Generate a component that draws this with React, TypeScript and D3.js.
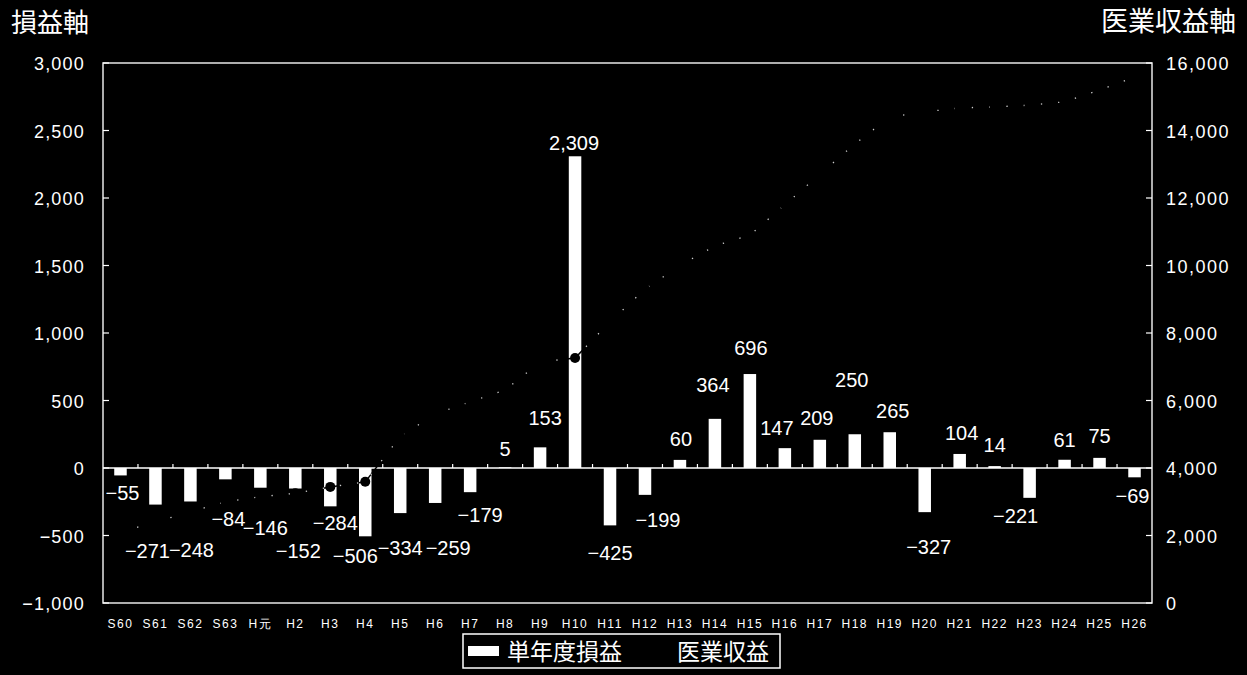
import React from "react";
import * as d3 from "d3";

const categories = ["S60","S61","S62","S63","H元","H2","H3","H4","H5","H6","H7","H8","H9","H10","H11","H12","H13","H14","H15","H16","H17","H18","H19","H20","H21","H22","H23","H24","H25","H26"];
const profit = [-55,-271,-248,-84,-146,-152,-284,-506,-334,-259,-179,5,153,2309,-425,-199,60,364,696,147,209,250,265,-327,104,14,-221,61,75,-69];
const revenue = [2100,2400,2700,3000,3150,3250,3440,3590,4930,5600,5960,6310,7140,7260,8330,9300,10000,10580,10900,11800,12700,13600,14400,14550,14670,14700,14750,14850,15200,15580];
const leftTicks = [-1000,-500,0,500,1000,1500,2000,2500,3000];
const rightTicks = [0,2000,4000,6000,8000,10000,12000,14000,16000];

// manual data-label placement (dx, dy from bar end), as in the original sheet
const labelNudge: [number, number][] = [
  [2,25],[-8,53],[1,56],[3,47],[5,47],[3,69],[5,24],[-10,27],[0,42],[13,52],
  [10,30],[0,-11],[5,-22],[-1,-6],[0,35],[13,32],[1,-14],[-2,-27],[1,-19],[-8,-13],
  [-3,-15],[-3,-47],[3,-14],[4,42],[2,-14],[0,-14],[-14,25],[0,-13],[0,-15],[-2,26]
];

const W = 1247, H = 675;
const L = 103, R = 1152, T = 63, B = 603;

export default function App() {
  const x = d3.scaleBand<string>().domain(categories).range([L, R]).padding(0);
  const yL = d3.scaleLinear().domain([-1000, 3000]).range([B, T]);
  const yR = d3.scaleLinear().domain([0, 16000]).range([B, T]);
  const bw = 12.5;
  const cx = (c: string) => (x(c) as number) + x.bandwidth() / 2;
  const fmt = d3.format(",");
  const y0 = yL(0);
  const line = d3.line<number>().x((_, i) => cx(categories[i])).y((v) => yR(v));
  const path = line(revenue) || "";
  const numFont = "'Liberation Sans', Arial, sans-serif";
  const cjk = "'Noto Sans CJK JP', sans-serif";

  return (
    <div style={{ position: "absolute", left: 0, top: 0 }}>
      <svg width={W} height={H} style={{ display: "block", background: "#000" }}>
        <rect x={0} y={0} width={W} height={H} fill="#000" />
        {/* titles */}
        <text x={11} y={32} fill="#fff" fontFamily={cjk} fontSize={26}>損益軸</text>
        <text x={1236} y={31} fill="#fff" fontFamily={cjk} fontSize={27} textAnchor="end">医業収益軸</text>

        {/* bars */}
        {profit.map((v, i) => {
          const c = categories[i];
          const yy = yL(v);
          return (
            <rect key={c} x={cx(c) - bw / 2} y={Math.min(yy, y0)} width={bw}
              height={Math.abs(yy - y0)} fill="#fff" />
          );
        })}

        {/* plot frame */}
        <rect x={L} y={T} width={R - L} height={B - T} fill="none" stroke="#e8e8e8" strokeWidth={1.5} />
        {/* zero line with category ticks */}
        <line x1={L} x2={R} y1={y0} y2={y0} stroke="#fff" strokeWidth={1.5} />
        {categories.map((c, i) => i > 0 ? (
          <line key={"ct" + c} x1={x(c) as number} x2={x(c) as number} y1={y0} y2={y0 - 4} stroke="#fff" strokeWidth={1.2} />
        ) : null)}

        {/* left axis ticks */}
        {leftTicks.map((t) => (
          <g key={"l" + t}>
            <line x1={L} x2={L + 6} y1={yL(t)} y2={yL(t)} stroke="#fff" strokeWidth={1.2} />
            <text x={85} y={yL(t) + 7} fill="#fff" fontFamily={numFont} fontSize={18}
              letterSpacing={1.2} textAnchor="end">{fmt(t)}</text>
          </g>
        ))}
        {/* right axis ticks */}
        {rightTicks.map((t) => (
          <g key={"r" + t}>
            <line x1={R - 6} x2={R} y1={yR(t)} y2={yR(t)} stroke="#fff" strokeWidth={1.2} />
            <text x={1166} y={yR(t) + 7} fill="#fff" fontFamily={numFont} fontSize={18}
              letterSpacing={1.5}>{fmt(t)}</text>
          </g>
        ))}

        {/* category labels */}
        {categories.map((c) => (
          <text key={"x" + c} x={cx(c)} y={628} fill="#fff" fontFamily={numFont} fontSize={12}
            letterSpacing={1.5} textAnchor="middle">{c}</text>
        ))}

        {/* revenue line (black on black, visible only across bars) */}
        <path d={path} fill="none" stroke="#000" strokeWidth={1.5} />
        <path d={path} fill="none" stroke="#fff" strokeWidth={1.3} strokeDasharray="1.3 16" opacity={0.8} />
        {revenue.map((v, i) => (
          <circle key={"m" + i} cx={cx(categories[i])} cy={yR(v)} r={5} fill="#000" />
        ))}

        {/* data labels */}
        {profit.map((v, i) => {
          const c = categories[i];
          const [dx, dy] = labelNudge[i];
          return (
            <text key={"dl" + c} x={cx(c) + dx} y={yL(v) + dy} fill="#fff" fontFamily={numFont}
              fontSize={20} textAnchor="middle">{fmt(v)}</text>
          );
        })}

        {/* legend */}
        <rect x={463} y={634} width={317} height={34} fill="#000" stroke="#fff" strokeWidth={1.5} />
        <rect x={468} y={646} width={31} height={10} fill="#fff" />
        <text x={507} y={660} fill="#fff" fontFamily={cjk} fontSize={23}>単年度損益</text>
        <line x1={630} x2={672} y1={651} y2={651} stroke="#000" strokeWidth={1.5} />
        <text x={677} y={660} fill="#fff" fontFamily={cjk} fontSize={23}>医業収益</text>
      </svg>
    </div>
  );
}
